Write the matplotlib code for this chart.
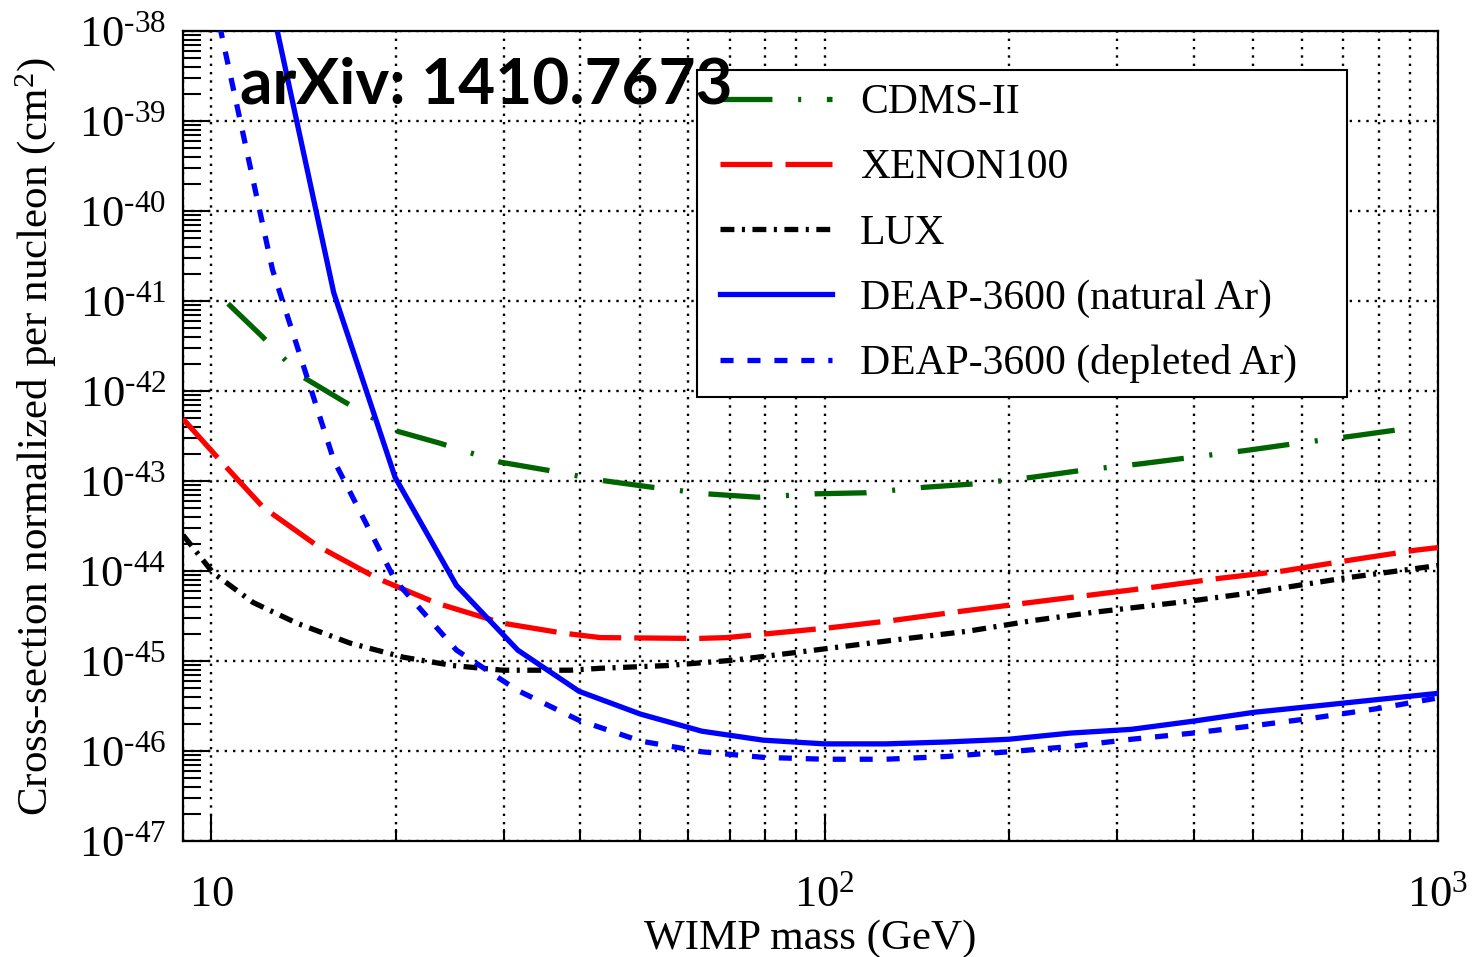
import matplotlib
matplotlib.use("Agg")
import matplotlib.pyplot as plt
from matplotlib.ticker import FixedLocator, NullFormatter
from matplotlib.legend_handler import HandlerLine2D
from matplotlib.lines import Line2D

# ---------------- data ----------------
cdms_mass = [10.66, 12.1, 14.0, 16.4, 19.95, 23.6, 29.6, 35.3, 43.1, 52.5, 64.3,
             77.9, 96.5, 117, 145, 176, 218, 264, 327, 394, 488, 591, 727, 883]
cdms_xsec = [9.33e-42, 4.07e-42, 1.48e-42, 7.76e-43, 3.63e-43, 2.63e-43, 1.62e-43,
             1.32e-43, 1.02e-43, 8.5e-44, 7.2e-44, 6.6e-44, 7.2e-44, 7.4e-44, 8.5e-44,
             9.3e-44, 1.10e-43, 1.32e-43, 1.55e-43, 1.82e-43, 2.19e-43, 2.63e-43,
             3.16e-43, 3.80e-43]

xenon_mass = [9.0, 10.34, 12.16, 14.89, 18.65, 23.3, 29.9, 37.5, 43.1, 62.0, 69.3,
              102, 129, 166, 211, 271, 343, 441, 559, 719, 917, 1000]
xenon_xsec = [4.9e-43, 1.70e-43, 5.1e-44, 1.91e-44, 8.3e-45, 4.4e-45, 2.63e-45,
              2.04e-45, 1.82e-45, 1.78e-45, 1.82e-45, 2.34e-45, 2.82e-45, 3.55e-45,
              4.37e-45, 5.4e-45, 6.6e-45, 8.3e-45, 1.0e-44, 1.32e-44, 1.70e-44, 1.82e-44]

lux_mass = [9.0, 10.08, 11.71, 13.8, 16.85, 20.6, 24.8, 29.9, 38.5, 43.1, 55.4, 70.9,
            91.2, 129, 171, 219, 274, 399, 499, 700, 1000]
lux_xsec = [2.51e-44, 9.5e-45, 4.47e-45, 2.63e-45, 1.58e-45, 1.10e-45, 8.9e-46,
            7.9e-46, 7.9e-46, 8.3e-46, 8.9e-46, 1.02e-45, 1.26e-45, 1.70e-45, 2.14e-45,
            2.82e-45, 3.47e-45, 4.68e-45, 5.75e-45, 8.3e-45, 1.15e-44]

deap_nat_mass = [12.59, 15.85, 19.95, 25.12, 31.62, 39.81, 50.12, 63.10, 79.43, 100,
                 125.9, 158.5, 199.5, 251.2, 316.2, 398.1, 501.2, 631.0, 794.3, 1000]
deap_nat_xsec = [1.78e-38, 1.23e-41, 1.10e-43, 6.9e-45, 1.32e-45, 4.6e-46, 2.57e-46,
                 1.66e-46, 1.32e-46, 1.20e-46, 1.20e-46, 1.26e-46, 1.35e-46, 1.58e-46,
                 1.74e-46, 2.14e-46, 2.69e-46, 3.16e-46, 3.72e-46, 4.37e-46]

deap_dep_mass = [10.0, 12.59, 15.85, 19.95, 25.12, 31.62, 39.81, 50.12, 63.10, 79.43,
                 100, 125.9, 158.5, 199.5, 251.2, 316.2, 398.1, 501.2, 631.0, 794.3, 1000]
deap_dep_xsec = [3.16e-38, 2.24e-41, 1.70e-43, 7.9e-45, 1.32e-45, 4.7e-46, 2.19e-46,
                 1.29e-46, 9.8e-47, 8.5e-47, 8.1e-47, 8.1e-47, 8.7e-47, 9.8e-47,
                 1.12e-46, 1.35e-46, 1.58e-46, 1.91e-46, 2.34e-46, 2.95e-46, 3.89e-46]

series_labels = ["CDMS-II", "XENON100", "LUX", "DEAP-3600 (natural Ar)",
                 "DEAP-3600 (depleted Ar)"]
xtick_values = [10, 100, 1000]
xtick_labels = [r"$10$", r"$10^{2}$", r"$10^{3}$"]
ytick_exponents = [-47, -46, -45, -44, -43, -42, -41, -40, -39, -38]

# ---------------- style ----------------
plt.rcParams["font.family"] = ["Liberation Serif", "DejaVu Serif"]
plt.rcParams["mathtext.fontset"] = "custom"
plt.rcParams["mathtext.rm"] = "Liberation Serif"
plt.rcParams["mathtext.it"] = "Liberation Serif:italic"
plt.rcParams["mathtext.bf"] = "Liberation Serif:bold"
plt.rcParams["lines.scale_dashes"] = False

W, H = 1472, 957
fig = plt.figure(figsize=(W / 100, H / 100), dpi=100)
L, R, T, B = 183, 1438, 31, 841
ax = fig.add_axes([L / W, 1 - B / H, (R - L) / W, (B - T) / H])
ax.set_xscale("log")
ax.set_yscale("log")
ax.set_xlim(9.0, 1000)
ax.set_ylim(1e-47, 1e-38)

lw = 3.8
ax.plot(cdms_mass, cdms_xsec, color="#006400", lw=lw, dashes=(37.4, 18.5, 2.2, 18.5),
        label=series_labels[0], zorder=3)
ax.plot(xenon_mass, xenon_xsec, color="#ff0000", lw=lw, dashes=(37.4, 9.4),
        label=series_labels[1], zorder=3)
ax.plot(lux_mass, lux_xsec, color="black", lw=lw, dashes=(10, 5.4, 2.2, 5.4),
        label=series_labels[2], zorder=3)
ax.plot(deap_nat_mass, deap_nat_xsec, color="#0000ff", lw=lw, ls="-",
        label=series_labels[3], zorder=3)
ax.plot(deap_dep_mass, deap_dep_xsec, color="#0000ff", lw=lw, dashes=(9.4, 10),
        label=series_labels[4], zorder=3)

# ticks
ax.xaxis.set_major_locator(FixedLocator(xtick_values))
minor_x = [m * 10 ** d for d in (0, 1, 2) for m in range(2, 10) if 9 <= m * 10 ** d <= 1000]
ax.xaxis.set_minor_locator(FixedLocator(minor_x))
ax.xaxis.set_minor_formatter(NullFormatter())
ax.set_xticks(xtick_values, labels=xtick_labels)

yt = [10.0 ** e for e in ytick_exponents]
ax.yaxis.set_major_locator(FixedLocator(yt))
minor_y = [m * 10.0 ** e for e in ytick_exponents[:-1] for m in range(2, 10)]
ax.yaxis.set_minor_locator(FixedLocator(minor_y))
ax.yaxis.set_minor_formatter(NullFormatter())
ax.set_yticks(yt, labels=[r"$10^{\text{-}%d}$" % (-e) for e in ytick_exponents])

ax.tick_params(axis="both", which="both", direction="in", top=False, right=False,
               labelsize=32, width=1.5, color="black")
ax.tick_params(axis="x", which="major", length=18.7, pad=47)
ax.tick_params(axis="x", which="minor", length=8.5)
ax.tick_params(axis="y", which="major", length=19.4, pad=12)
ax.tick_params(axis="y", which="minor", length=13)
for lbl in ax.get_xticklabels():
    lbl.set_verticalalignment("baseline")

for s in ax.spines.values():
    s.set_linewidth(1.6)
    s.set_color("black")

# grid
grid_kw = dict(color="black", lw=1.7, dashes=(1.7, 4.3))
ax.grid(True, which="major", axis="both", **grid_kw)
ax.grid(True, which="minor", axis="x", **grid_kw)
ax.set_axisbelow(True)

# axis labels
ax.set_xlabel("WIMP mass (GeV)", fontsize=31)
ax.xaxis.set_label_coords(0.5, (B - 919) / (B - T))
ax.xaxis.label.set_verticalalignment("top")
ax.set_ylabel("Cross-section normalized per nucleon (cm$^{2}$)", fontsize=31)
ax.yaxis.set_label_coords((58 - L) / (R - L), 0.5)
ax.yaxis.label.set_verticalalignment("bottom")

# legend
fs_leg = 30
leg = ax.legend(loc="upper left",
                bbox_to_anchor=(697 / W, 1 - 70 / H, 650 / W, 0),
                bbox_transform=fig.transFigure, mode="expand",
                fontsize=fs_leg, frameon=True, fancybox=False, shadow=False,
                borderaxespad=0, handlelength=2.92, handletextpad=0.66,
                labelspacing=0.64, borderpad=0.33, framealpha=1,
                handler_map={Line2D: HandlerLine2D(xpad=0.21)})
leg.get_frame().set_edgecolor("black")
leg.get_frame().set_linewidth(1.5)
leg.set_zorder(6)

# annotation
fig.text(240 / W, 1 - 104 / H, "arXiv: 1410.7673", fontsize=46, fontweight="bold",
         family=["Lato", "DejaVu Sans"], va="baseline", ha="left", color="black",
         zorder=10)

fig.savefig("out.png", dpi=100)
